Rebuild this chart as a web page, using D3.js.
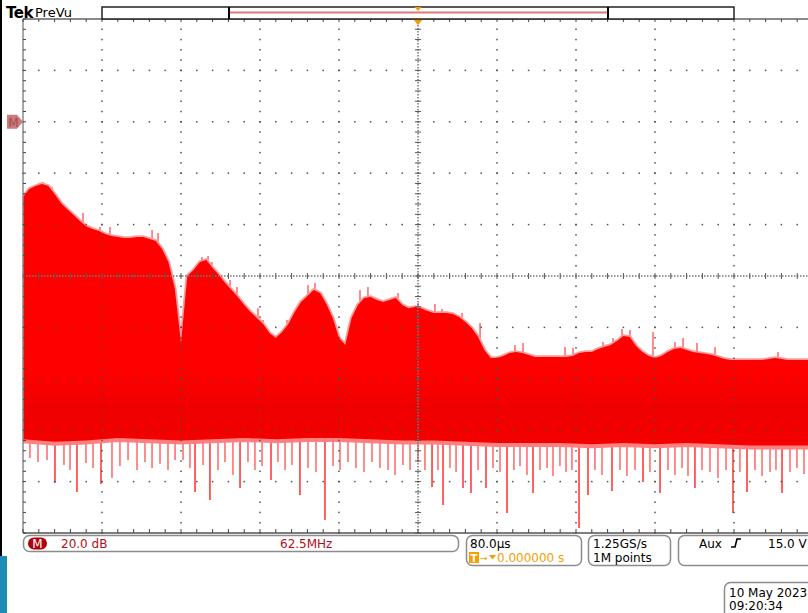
<!DOCTYPE html>
<html><head><meta charset="utf-8">
<script src="https://cdn.jsdelivr.net/npm/d3@7"></script>
<style>
html,body{margin:0;padding:0;background:#fff;overflow:hidden;}
svg{display:block;}
text{font-family:"DejaVu Sans",Verdana,sans-serif;}
</style></head><body>
<svg id="scope" width="808" height="613"></svg>
<script>
// FFT math trace: 20 dB/div vertical, 62.5 MHz/div horizontal (0 - 625 MHz)
const binStepMHz = 5;
const binMHz = d3.range(0, 625 + binStepMHz / 2, binStepMHz);

// upper envelope of the spectrum, dB, one value per 5 MHz bin
const upperDb = [
  -29.3, -26.1, -25.0, -24.2, -25.0, -28.1, -31.6, -34.0, -36.3, -38.6,
  -40.6, -41.7, -42.5, -43.7, -44.4, -44.8, -45.2, -45.2, -44.8, -44.8,
  -45.6, -46.4, -49.5, -54.6, -64.7, -86.1, -60.0, -57.7, -54.6, -53.8,
  -56.9, -59.6, -62.7, -65.4, -68.2, -71.3, -74.0, -76.3, -78.7, -82.2,
  -84.1, -81.8, -78.7, -74.0, -70.1, -67.8, -65.4, -66.6, -70.9, -76.3,
  -84.1, -86.8, -76.3, -71.3, -68.6, -68.2, -69.3, -70.1, -69.3, -68.6,
  -71.3, -72.5, -72.1, -72.5, -73.6, -74.4, -74.4, -74.4, -74.8, -76.0,
  -77.9, -80.2, -83.7, -88.8, -91.9, -91.9, -91.1, -90.0, -89.6, -90.0,
  -90.7, -91.5, -91.5, -91.5, -91.5, -91.5, -91.5, -91.1, -90.0, -89.6,
  -89.6, -88.4, -87.6, -86.8, -85.3, -83.3, -83.7, -87.2, -89.6, -91.1,
  -91.9, -91.1, -89.6, -88.4, -88.0, -88.8, -89.6, -90.0, -90.3, -90.7,
  -91.5, -92.3, -92.7, -92.7, -92.7, -92.7, -92.7, -92.7, -92.3, -91.9,
  -92.3, -92.7, -92.7, -92.7, -92.7, -92.7
];

// narrow peaks poking above the upper envelope
const peakMHz = [7.1, 15.8, 22.9, 43.5, 47.5, 60.9, 68.8, 102.1, 106.8, 141.6,
  146.4, 149.5, 163.8, 169.3, 185.9, 189.9, 208.9, 212.8, 225.5, 231.0, 237.3,
  266.6, 272.9, 296.7, 312.5, 325.9, 331.5, 347.3, 361.6, 389.2, 395.6, 428.8,
  435.1, 458.9, 466.8, 473.9, 480.2, 498.4, 515.8, 522.2, 533.2, 547.5, 597.3];
const peakDb = [-25.8, -23.4, -25.4, -37.0, -35.5, -40.9, -40.9, -42.1, -43.3, -52.6,
  -52.2, -54.6, -61.6, -64.3, -72.5, -77.1, -77.1, -79.1, -63.5, -62.7, -68.2,
  -65.4, -64.3, -66.6, -70.5, -70.9, -72.8, -74.4, -78.3, -86.8, -86.1, -87.6,
  -88.0, -85.7, -84.1, -80.6, -81.0, -81.8, -85.7, -84.1, -86.1, -87.6, -89.6];

// lower edge of the dense noise floor, dB, every 25 MHz
const lowerMHz = [0, 25, 50, 75, 100, 125, 150, 175, 200, 225, 250, 275, 300,
  325, 350, 375, 400, 425, 450, 475, 500, 525, 550, 575, 600, 625];
const lowerDb = [-123.5, -124.5, -124.0, -123.0, -123.5, -124.0, -123.5, -123.0,
  -123.5, -123.0, -123.0, -123.5, -124.0, -124.0, -124.5, -125.0, -125.0, -125.0,
  -125.5, -125.0, -125.5, -125.0, -125.5, -126.0, -126.0, -126.0];

// downward spikes below the noise floor
const dipMHz = [5.5, 11.9, 19.0, 25.3, 32.4, 37.2, 42.7, 49.8, 55.4, 61.7,
  70.4, 76.7, 83.1, 90.2, 96.5, 102.1, 108.4, 114.7, 120.3, 126.6,
  132.1, 136.1, 142.4, 147.9, 154.3, 159.8, 166.1, 171.7, 178.0, 183.5,
  189.1, 196.2, 201.7, 207.3, 212.8, 219.1, 225.5, 231.8, 238.9, 245.3,
  250.8, 257.1, 263.4, 269.8, 276.1, 282.4, 288.8, 294.3, 300.6, 306.2,
  312.5, 318.0, 323.6, 328.3, 332.3, 337.8, 342.6, 348.1, 354.4, 360.0,
  366.3, 371.8, 377.4, 382.9, 388.4, 393.2, 398.7, 403.5, 409.0, 414.6,
  419.3, 424.8, 429.6, 434.3, 439.9, 447.0, 452.5, 458.1, 466.0, 472.3,
  477.8, 484.2, 490.5, 496.0, 504.0, 510.3, 515.8, 521.4, 526.1, 531.6,
  537.2, 543.5, 549.8, 556.2, 561.7, 567.2, 572.8, 579.1, 584.7, 591.0,
  595.7, 600.5, 606.8, 612.3, 617.9];
const dipDb = [-130.8, -132.4, -131.6, -140.5, -133.5, -135.5, -144.0, -132.8, -134.7, -140.9,
  -138.6, -133.9, -131.6, -135.5, -132.4, -134.7, -133.1, -135.5, -131.6, -131.6,
  -134.7, -144.0, -133.5, -147.2, -135.5, -132.4, -137.4, -142.5, -132.4, -135.5,
  -133.9, -139.4, -132.4, -135.5, -133.5, -145.2, -134.7, -136.3, -154.9, -133.9,
  -135.5, -132.4, -134.7, -136.3, -132.4, -134.7, -135.5, -137.4, -133.5, -135.5,
  -132.4, -135.5, -142.1, -135.5, -149.1, -134.7, -136.3, -142.5, -144.4, -135.5,
  -142.5, -134.7, -136.3, -152.2, -135.5, -133.9, -137.4, -144.4, -135.5, -134.7,
  -137.8, -133.9, -136.3, -135.5, -158.1, -145.2, -135.5, -137.4, -143.7, -135.5,
  -137.8, -135.5, -140.2, -136.3, -144.4, -135.5, -137.4, -134.7, -137.8, -142.5,
  -135.5, -136.3, -138.6, -135.5, -152.2, -136.3, -144.0, -135.5, -137.8, -136.3,
  -135.5, -144.4, -136.3, -134.7, -137.0];

// readout texts
const scaleText = "20.0 dB";
const freqText = "62.5MHz";
const timeText = "80.0\u00b5s";
const trigPosText = "0.000000 s";
const rateText = "1.25GS/s";
const pointsText = "1M points";
const trigSrcText = "Aux";
const trigLevelText = "15.0 V";
const dateText = "10 May 2023";
const clockText = "09:20:34";

const svg = d3.select("#scope");
const x = d3.scaleLinear().domain([0, 625]).range([23, 813]);
const y = d3.scaleLinear().domain([-160, 40]).range([533, 19]);
const plotL = 23, plotR = 808, plotT = y(40), plotB = y(-160);

// side bars
svg.append("rect").attr("x", 0).attr("y", 0).attr("width", 2).attr("height", 556).attr("fill", "#000");
svg.append("rect").attr("x", 0).attr("y", 556).attr("width", 7).attr("height", 57).attr("fill", "#1e8db3");

const defs = svg.append("defs");
defs.append("clipPath").attr("id", "plotClip").append("rect")
  .attr("x", plotL).attr("y", plotT).attr("width", plotR - plotL).attr("height", plotB - plotT);
const grad = defs.append("linearGradient").attr("id", "traceFill")
  .attr("gradientUnits", "userSpaceOnUse").attr("x1", 0).attr("x2", 0).attr("y1", plotT).attr("y2", plotB);
[[0, "#ff0000"], [0.68, "#ff0000"], [0.76, "#f00000"], [0.82, "#f30000"], [0.88, "#ff0000"], [1, "#ff0000"]]
  .forEach(([o, c]) => grad.append("stop").attr("offset", o).attr("stop-color", c));

const trace = svg.append("g").attr("clip-path", "url(#plotClip)");

// downward spikes (drawn first, the floor covers their upper ends)
trace.selectAll("line.dip").data(dipMHz).join("line").attr("class", "dip")
  .attr("x1", d => x(d)).attr("x2", d => x(d))
  .attr("y1", y(-115)).attr("y2", (d, i) => y(dipDb[i]))
  .attr("stroke", (d, i) => dipDb[i] < -139 ? "#ff3c3c" : "#ff7070")
  .attr("stroke-width", 1.6);

// narrow peaks above the envelope
trace.selectAll("line.peak").data(peakMHz).join("line").attr("class", "peak")
  .attr("x1", d => x(d)).attr("x2", d => x(d))
  .attr("y1", (d, i) => y(peakDb[i] - 12)).attr("y2", (d, i) => y(peakDb[i]))
  .attr("stroke", "#ff7070").attr("stroke-width", 1.6);

// soft pink fringe on both edges
const upperLine = d3.line().x((d, i) => x(binMHz[i])).y(d => y(d));
trace.append("path").attr("d", upperLine(upperDb))
  .attr("fill", "none").attr("stroke", "#ff9a9a").attr("stroke-width", 3.5);
const lowerLine = d3.line().x((d, i) => x(lowerMHz[i])).y(d => y(d));
trace.append("path").attr("d", lowerLine(lowerDb))
  .attr("fill", "none").attr("stroke", "#ff8080").attr("stroke-width", 8);

// solid body: upper part and floor part overlap so no seam shows
const upperArea = d3.area().x((d, i) => x(binMHz[i])).y0(y(-115)).y1(d => y(d));
trace.append("path").attr("d", upperArea(upperDb)).attr("fill", "url(#traceFill)");
const lowerArea = d3.area().x((d, i) => x(lowerMHz[i])).y0(y(-105)).y1(d => y(d));
trace.append("path").attr("d", lowerArea(lowerDb)).attr("fill", "url(#traceFill)");

// graticule drawn over the trace
const grid = svg.append("g");
const majorF = d3.range(0, 625.1, 62.5);
const majorDb = d3.range(-160, 40.1, 20);
const minorF = d3.range(0, 625.1, 12.5);
const minorDb = d3.range(-160, 40.1, 4);
const dotColor = "#505050";
const visF = minorF.filter(f => x(f) < plotR);

// horizontal grid lines: dots at each minor frequency step
majorDb.filter(v => v > -160 && v < 40 && v !== -60).forEach(v => {
  grid.selectAll(null).data(visF).join("rect")
    .attr("x", f => x(f) - 0.75).attr("y", y(v) - 0.75).attr("width", 1.5).attr("height", 1.5)
    .attr("fill", dotColor);
});
// vertical grid lines: dots at each minor dB step
majorF.filter(f => f > 0 && f < 625 && f !== 312.5).forEach(f => {
  grid.selectAll(null).data(minorDb).join("rect")
    .attr("x", x(f) - 0.75).attr("y", v => y(v) - 0.75).attr("width", 1.5).attr("height", 1.5)
    .attr("fill", dotColor);
});
// center cross lines
grid.append("line").attr("x1", x(312.5)).attr("x2", x(312.5)).attr("y1", plotT).attr("y2", plotB)
  .attr("stroke", "#777").attr("stroke-width", 1.5).attr("stroke-dasharray", "1.5,1.5");
grid.append("line").attr("x1", plotL).attr("x2", plotR).attr("y1", y(-60)).attr("y2", y(-60))
  .attr("stroke", "#777").attr("stroke-width", 1.5).attr("stroke-dasharray", "1.5,1.5");
grid.selectAll(null).data(minorDb).join("line")
  .attr("x1", x(312.5) - 3).attr("x2", x(312.5) + 3).attr("y1", v => y(v)).attr("y2", v => y(v))
  .attr("stroke", "#555").attr("stroke-width", 1);
grid.selectAll(null).data(visF).join("line")
  .attr("x1", f => x(f)).attr("x2", f => x(f)).attr("y1", y(-60) - 3).attr("y2", y(-60) + 3)
  .attr("stroke", "#555").attr("stroke-width", 1);

// frame
grid.append("line").attr("x1", plotL).attr("x2", plotR).attr("y1", plotT).attr("y2", plotT)
  .attr("stroke", "#8a8a8a").attr("stroke-width", 2);
grid.append("line").attr("x1", plotL).attr("x2", plotR).attr("y1", plotB).attr("y2", plotB)
  .attr("stroke", "#555").attr("stroke-width", 1.5);
grid.append("line").attr("x1", plotL).attr("x2", plotL).attr("y1", plotT).attr("y2", plotB)
  .attr("stroke", "#8a8a8a").attr("stroke-width", 1.5);
grid.selectAll(null).data(visF).join("line")
  .attr("x1", f => x(f)).attr("x2", f => x(f)).attr("y1", plotT).attr("y2", plotT + 3)
  .attr("stroke", "#444").attr("stroke-width", 1);
grid.selectAll(null).data(visF).join("line")
  .attr("x1", f => x(f)).attr("x2", f => x(f)).attr("y1", plotB - 4).attr("y2", plotB)
  .attr("stroke", "#444").attr("stroke-width", 1);
grid.selectAll(null).data(minorDb).join("line")
  .attr("x1", plotL).attr("x2", plotL + 3).attr("y1", v => y(v)).attr("y2", v => y(v))
  .attr("stroke", "#444").attr("stroke-width", 1);

// trigger position marker
const trigX = x(312.5);
grid.append("path").attr("d", `M${trigX - 5},${plotT} L${trigX + 5},${plotT} L${trigX},${plotT + 6} Z`).attr("fill", "#f59a00");

// math reference marker at 0 dB
const mY = y(0);
svg.append("path").attr("d", `M7,${mY - 7} L17,${mY - 7} L23,${mY} L17,${mY + 7} L7,${mY + 7} Z`).attr("fill", "#cc7a7a");
svg.append("text").attr("x", 13.5).attr("y", mY + 5).attr("text-anchor", "middle")
  .attr("font-size", 12).attr("fill", "#9a5050").text("M");

// header
svg.append("text").attr("x", 6).attr("y", 18).attr("font-family", "DejaVu Serif").attr("font-weight", "bold")
  .attr("font-size", 15).attr("letter-spacing", -0.5).attr("fill", "#000").text("Tek");
svg.append("text").attr("x", 35).attr("y", 17).attr("font-size", 13).attr("fill", "#000").text("PreVu");
svg.append("rect").attr("x", x(62.5)).attr("y", 7).attr("width", x(562.5) - x(62.5)).attr("height", 12)
  .attr("fill", "#fff").attr("stroke", "#222").attr("stroke-width", 1.5);
svg.append("line").attr("x1", 229).attr("x2", 608).attr("y1", 12.5).attr("y2", 12.5)
  .attr("stroke", "#e07878").attr("stroke-width", 2);
[229, 608].forEach(bx => svg.append("line").attr("x1", bx).attr("x2", bx).attr("y1", 7).attr("y2", 19)
  .attr("stroke", "#000").attr("stroke-width", 2));
svg.append("path").attr("d", `M${trigX - 3.5},7 L${trigX + 3.5},7 L${trigX},11 Z`).attr("fill", "#f59a00");

// readout boxes
function box(x0, y0, w, h) {
  svg.append("rect").attr("x", x0).attr("y", y0).attr("width", w).attr("height", h)
    .attr("rx", 6).attr("fill", "#fff").attr("stroke", "#8c8c8c").attr("stroke-width", 1.5);
}
box(23.5, 535.5, 435, 16);
box(466.5, 535.5, 115, 30);
box(588.5, 535.5, 82, 30);
box(678.5, 535.5, 140, 30);
box(724.5, 582.5, 100, 40);

svg.append("rect").attr("x", 28).attr("y", 537.5).attr("width", 19).attr("height", 12).attr("rx", 6).attr("fill", "#b0000c");
svg.append("text").attr("x", 37.5).attr("y", 548).attr("text-anchor", "middle").attr("font-size", 12)
  .attr("fill", "#fff").text("M");
const red = "#b01020";
svg.append("text").attr("x", 61).attr("y", 548).attr("font-size", 12).attr("fill", red).text(scaleText);
svg.append("text").attr("x", 280).attr("y", 548).attr("font-size", 12).attr("fill", red).text(freqText);

svg.append("text").attr("x", 470).attr("y", 548).attr("font-size", 12).attr("fill", "#000").text(timeText);
const orange = "#f5a000";
svg.append("rect").attr("x", 469).attr("y", 552).attr("width", 10).attr("height", 11).attr("fill", orange);
svg.append("text").attr("x", 474).attr("y", 561.5).attr("text-anchor", "middle").attr("font-size", 10)
  .attr("font-weight", "bold").attr("fill", "#fff").text("T");
svg.append("text").attr("x", 480).attr("y", 561).attr("font-size", 9).attr("fill", orange).text("\u2192");
svg.append("path").attr("d", "M489,555 L496,555 L492.5,559.5 Z").attr("fill", orange);
svg.append("text").attr("x", 497).attr("y", 562).attr("font-size", 12).attr("fill", orange).text(trigPosText);

svg.append("text").attr("x", 593).attr("y", 548).attr("font-size", 12).attr("fill", "#000").text(rateText);
svg.append("text").attr("x", 593).attr("y", 562).attr("font-size", 12).attr("fill", "#000").text(pointsText);

svg.append("text").attr("x", 699).attr("y", 548).attr("font-size", 12).attr("fill", "#000").text(trigSrcText);
svg.append("path").attr("d", "M731,547 L735,547 L737,539 L741,539").attr("fill", "none")
  .attr("stroke", "#000").attr("stroke-width", 1.6);
svg.append("text").attr("x", 768).attr("y", 548).attr("font-size", 12).attr("fill", "#000").text(trigLevelText);

svg.append("text").attr("x", 729).attr("y", 597).attr("font-size", 12).attr("fill", "#000").text(dateText);
svg.append("text").attr("x", 729).attr("y", 610).attr("font-size", 12).attr("fill", "#000").text(clockText);
</script></body></html>
